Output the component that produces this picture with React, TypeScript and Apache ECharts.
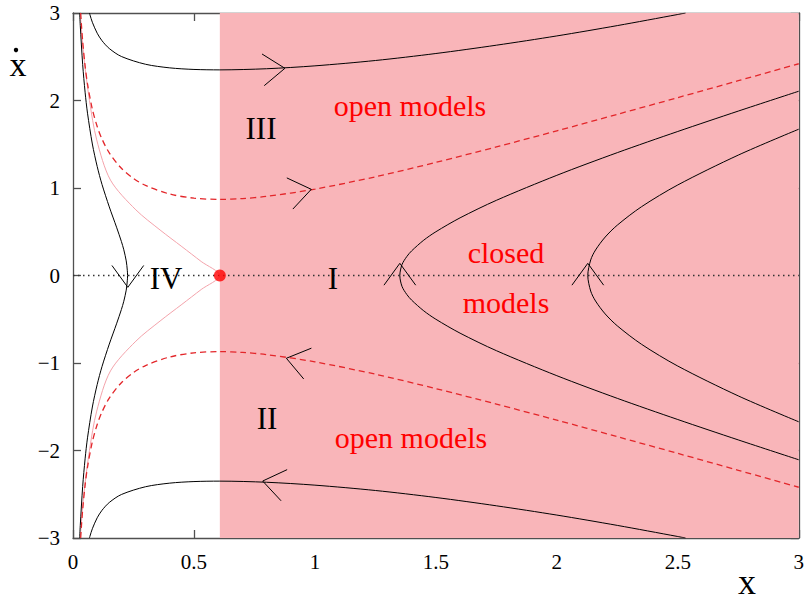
import React, { useEffect, useRef } from "react";
import * as echarts from "echarts";

// ---- data (x, xdot) ----
const xTickValues = [0, 0.5, 1, 1.5, 2, 2.5, 3];
const yTickValues = [-3, -2, -1, 0, 1, 2, 3];

const saddleX = 0.607;

const regionIVCurve: number[][] = [
  [0.0276, 3], [0.03, 2.859], [0.04, 2.41], [0.05, 2.095], [0.06, 1.855], [0.08, 1.503],
  [0.1, 1.246], [0.12, 1.04], [0.15, 0.784], [0.18, 0.552], [0.2, 0.389], [0.21, 0.294],
  [0.22, 0.167], [0.2245, 0.06], [0.2255, 0],
  [0.2245, -0.06], [0.22, -0.167], [0.21, -0.294], [0.2, -0.389], [0.18, -0.552], [0.15, -0.784],
  [0.12, -1.04], [0.1, -1.246], [0.08, -1.503], [0.06, -1.855], [0.05, -2.095], [0.04, -2.41],
  [0.03, -2.859], [0.0276, -3],
];

const upperSolid: number[][] = [
  [0.0679, 3], [0.07, 2.98], [0.08, 2.894], [0.1, 2.769], [0.12, 2.683], [0.15, 2.594],
  [0.2, 2.503], [0.3, 2.414], [0.4, 2.373], [0.5, 2.355], [0.607, 2.35], [0.8, 2.363],
  [1.0, 2.396], [1.25, 2.457], [1.5, 2.537], [1.75, 2.632], [2.0, 2.738], [2.25, 2.856],
  [2.5, 2.983], [2.532, 3],
];

const lowerSolid: number[][] = [
  [0.0679, -3], [0.07, -2.98], [0.08, -2.894], [0.1, -2.769], [0.12, -2.683], [0.15, -2.594],
  [0.2, -2.503], [0.3, -2.414], [0.4, -2.373], [0.5, -2.355], [0.607, -2.35], [0.8, -2.363],
  [1.0, -2.396], [1.25, -2.457], [1.5, -2.537], [1.75, -2.632], [2.0, -2.738], [2.25, -2.856],
  [2.5, -2.983], [2.532, -3],
];

const upperDashed: number[][] = [
  [0.0318, 3], [0.035, 2.858], [0.04, 2.675], [0.05, 2.395], [0.06, 2.189], [0.08, 1.9],
  [0.1, 1.703], [0.12, 1.559], [0.15, 1.401], [0.2, 1.225], [0.25, 1.11], [0.3, 1.029],
  [0.4, 0.931], [0.5, 0.884], [0.607, 0.87], [0.7, 0.879], [0.8, 0.904], [1.0, 0.987],
  [1.25, 1.128], [1.5, 1.293], [1.75, 1.47], [2.0, 1.653], [2.25, 1.842], [2.5, 2.033],
  [2.75, 2.226], [3.0, 2.42],
];

const lowerDashed: number[][] = [
  [0.0318, -3], [0.035, -2.858], [0.04, -2.675], [0.05, -2.395], [0.06, -2.189], [0.08, -1.9],
  [0.1, -1.703], [0.12, -1.559], [0.15, -1.401], [0.2, -1.225], [0.25, -1.11], [0.3, -1.029],
  [0.4, -0.931], [0.5, -0.884], [0.607, -0.87], [0.7, -0.879], [0.8, -0.904], [1.0, -0.987],
  [1.25, -1.128], [1.5, -1.293], [1.75, -1.47], [2.0, -1.653], [2.25, -1.842], [2.5, -2.033],
  [2.75, -2.226], [3.0, -2.42],
];

const closedCurve1: number[][] = [
  [3, -2.106], [2.75, -1.879], [2.5, -1.646], [2.25, -1.404], [2.0, -1.145], [1.75, -0.859],
  [1.6, -0.659], [1.5, -0.5], [1.45, -0.404], [1.4, -0.282], [1.38, -0.2175], [1.36, -0.1245],
  [1.351, 0],
  [1.36, 0.1245], [1.38, 0.2175], [1.4, 0.282], [1.45, 0.404], [1.5, 0.5], [1.6, 0.659],
  [1.75, 0.859], [2.0, 1.145], [2.25, 1.404], [2.5, 1.646], [2.75, 1.879], [3, 2.106],
];

const closedCurve2: number[][] = [
  [3, -1.672], [2.75, -1.376], [2.5, -1.035], [2.35, -0.786], [2.25, -0.5756], [2.2, -0.4395],
  [2.16, -0.2915], [2.14, -0.178], [2.128, 0],
  [2.14, 0.178], [2.16, 0.2915], [2.2, 0.4395], [2.25, 0.5756], [2.35, 0.786], [2.5, 1.035],
  [2.75, 1.376], [3, 1.672],
];

const separatrix: number[][] = [
  [0.03, 3], [0.045, 2.5], [0.068, 2.0], [0.098, 1.55], [0.155, 1.09], [0.26, 0.75],
  [0.36, 0.52], [0.45, 0.33], [0.53, 0.16], [0.607, 0],
  [0.53, -0.16], [0.45, -0.33], [0.36, -0.52], [0.26, -0.75], [0.155, -1.09], [0.098, -1.55],
  [0.068, -2.0], [0.045, -2.5], [0.03, -3],
];

const zeroLine: number[][] = [[0, 0], [3, 0]];
const fixedPoint: number[][] = [[saddleX, 0]];

// arrow heads: [x, xdot, direction in screen degrees]
const arrows: number[][] = [
  [0.876, 2.368, -4],
  [0.985, 0.985, -11],
  [0.882, -0.946, 194],
  [0.784, -2.349, 191],
  [0.2266, -0.135, 90],
  [1.351, 0.139, -90],
  [2.128, 0.139, -90],
];

const SERIF = "Liberation Serif";

export default function App() {
  const ref = useRef<HTMLDivElement>(null);

  useEffect(() => {
    if (!ref.current) return;
    const chart = echarts.init(ref.current, undefined, { renderer: "svg" });

    const axisLineStyle = { color: "#505050", width: 1.3 };
    const fmtY = (v: number) => (v < 0 ? "\u2212" + Math.abs(v) : String(v));

    const blackLine = (data: number[][]) => ({
      type: "line",
      data,
      showSymbol: false,
      smooth: 0.3,
      lineStyle: { color: "#000", width: 1 },
      z: 4,
      silent: true,
    });
    const dashedLine = (data: number[][]) => ({
      type: "line",
      data,
      showSymbol: false,
      smooth: 0.3,
      lineStyle: { color: "#e3262a", width: 1.3, type: [6, 4] },
      z: 4,
      silent: true,
    });

    const baseAxis = {
      axisLine: { show: true, onZero: false, lineStyle: axisLineStyle },
      axisTick: { show: true, inside: true, length: 8, lineStyle: axisLineStyle },
      splitLine: { show: false },
    };

    const textEl = (text: string, x: number, y: number, size: number, fill: string) => ({
      type: "text",
      x,
      y,
      z: 20,
      silent: true,
      style: {
        text,
        fontFamily: SERIF,
        fontSize: size,
        fill,
        align: "center",
        verticalAlign: "middle",
      },
    });

    const option: any = {
      animation: false,
      grid: { left: 73, right: 2, top: 13, bottom: 65, containLabel: false },
      xAxis: [
        {
          type: "value",
          min: 0,
          max: 3,
          interval: 0.5,
          position: "bottom",
          ...baseAxis,
          axisLabel: {
            show: true,
            margin: 13,
            fontFamily: SERIF,
            fontSize: 21,
            color: "#000",
            formatter: (v: number) => (xTickValues.includes(v) ? String(v) : ""),
          },
        },
        {
          type: "value",
          min: 0,
          max: 3,
          interval: 0.5,
          position: "top",
          ...baseAxis,
          axisLabel: { show: false },
        },
      ],
      yAxis: [
        {
          type: "value",
          min: -3,
          max: 3,
          interval: 1,
          position: "left",
          ...baseAxis,
          axisLabel: {
            show: true,
            margin: 13,
            fontFamily: SERIF,
            fontSize: 21,
            color: "#000",
            formatter: (v: number) => (yTickValues.includes(v) ? fmtY(v) : ""),
          },
        },
        {
          type: "value",
          min: -3,
          max: 3,
          interval: 1,
          position: "right",
          ...baseAxis,
          axisLabel: { show: false },
        },
      ],
      series: [
        {
          type: "line",
          data: [],
          z: 1,
          silent: true,
          markArea: {
            silent: true,
            itemStyle: { color: "#f9b5b9", opacity: 1 },
            data: [[{ xAxis: saddleX }, { xAxis: 3 }]],
          },
        },
        {
          type: "line",
          data: zeroLine,
          showSymbol: false,
          lineStyle: { color: "#333", width: 1.3, type: [1.5, 3.5] },
          z: 3,
          silent: true,
        },
        {
          type: "line",
          data: separatrix,
          showSymbol: false,
          smooth: 0.3,
          lineStyle: { color: "#f4a3ab", width: 1 },
          z: 3,
          silent: true,
        },
        blackLine(regionIVCurve),
        blackLine(upperSolid),
        blackLine(lowerSolid),
        blackLine(closedCurve1),
        blackLine(closedCurve2),
        dashedLine(upperDashed),
        dashedLine(lowerDashed),
        {
          type: "custom",
          data: arrows,
          encode: { x: 0, y: 1 },
          z: 6,
          silent: true,
          renderItem: (params: any, api: any) => {
            const p = api.coord([api.value(0), api.value(1)]);
            const ang = (api.value(2) * Math.PI) / 180;
            const L = 27;
            const th = (36 * Math.PI) / 180;
            const bx = -Math.cos(ang);
            const by = -Math.sin(ang);
            const a1 = [
              p[0] + L * (bx * Math.cos(th) - by * Math.sin(th)),
              p[1] + L * (bx * Math.sin(th) + by * Math.cos(th)),
            ];
            const a2 = [
              p[0] + L * (bx * Math.cos(-th) - by * Math.sin(-th)),
              p[1] + L * (bx * Math.sin(-th) + by * Math.cos(-th)),
            ];
            return {
              type: "polyline",
              shape: { points: [a1, p, a2] },
              style: { stroke: "#000", fill: "none", lineWidth: 1 },
            };
          },
        },
        {
          type: "scatter",
          data: fixedPoint,
          symbol: "circle",
          symbolSize: 12,
          itemStyle: { color: "#ff0000" },
          z: 7,
          silent: true,
        },
      ],
      graphic: [
        textEl("x", 18, 64, 34, "#000"),
        { type: "circle", z: 20, shape: { cx: 16, cy: 50, r: 2.2 }, style: { fill: "#000" } },
        textEl("x", 747, 582, 36, "#000"),
        textEl("III", 261, 128, 31, "#000"),
        textEl("IV", 166, 278, 31, "#000"),
        textEl("I", 333, 278, 31, "#000"),
        textEl("II", 267, 418, 31, "#000"),
        textEl("open models", 410, 105, 30, "#f00"),
        textEl("closed", 506, 252, 30, "#f00"),
        textEl("models", 506, 302, 30, "#f00"),
        textEl("open models", 411, 437, 30, "#f00"),
      ],
    };

    chart.setOption(option);
    return () => chart.dispose();
  }, []);

  return <div ref={ref} style={{ width: 807, height: 603, position: "absolute", left: 0, top: 0 }} />;
}
